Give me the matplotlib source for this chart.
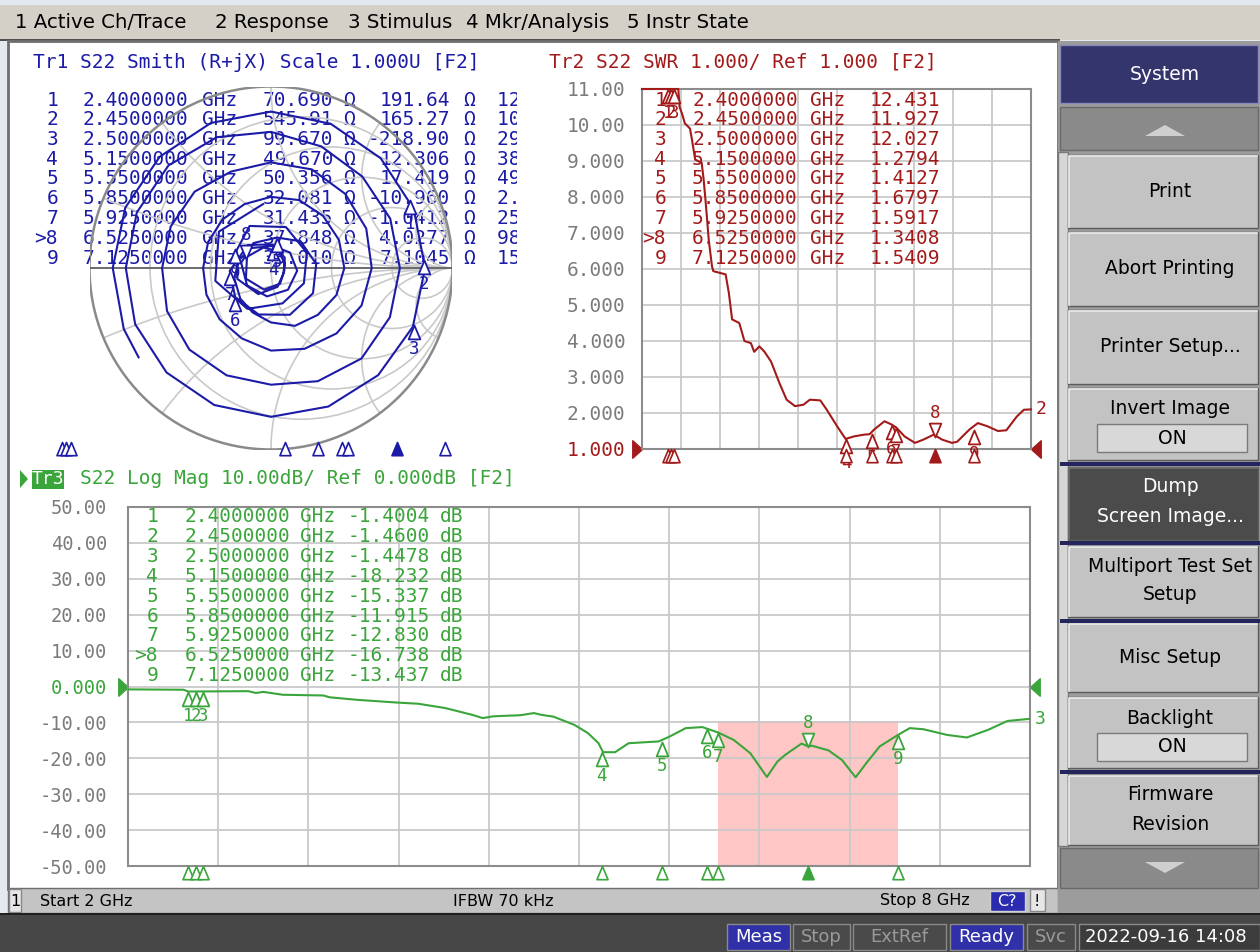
import numpy as np
import matplotlib
matplotlib.use("Agg")
import matplotlib.pyplot as plt
from matplotlib.patches import Rectangle, Circle, Polygon
from matplotlib.path import Path
from matplotlib.transforms import Bbox, TransformedBbox

W, H = 1260, 952
MONO = "DejaVu Sans Mono"
SANS = "DejaVu Sans"
MS = 14.0   # size of the instrument's fixed-width font

BLUE = "#1b1ba8"
RED = "#a31a1a"
GREEN = "#3aa53a"
GRID = "#c9c9c9"
FRAME = "#8c8c8c"
TICKC = "#7b7b7b"

# marker table, the same nine markers on all three traces
mk_label = ["1", "2", "3", "4", "5", "6", "7", ">8", "9"]
mk_freq = [2.4, 2.45, 2.5, 5.15, 5.55, 5.85, 5.925, 6.525, 7.125]   # GHz
mk_R = [70.690, 545.91, 99.670, 49.670, 50.356, 32.081, 31.435, 37.848, 33.010]
mk_X = [191.64, 165.27, -218.90, 12.306, 17.419, -10.960, -1.0412, 4.0277, 7.1045]
mk_eq = ["12.709 nH", "10.736 nH", "290.80 fF", "380.31 pH", "499.52 pH",
         "2.4823 pF", "25.799 pF", "98.240 pH", "158.70 pH"]
mk_swr = [12.431, 11.927, 12.027, 1.2794, 1.4127, 1.6797, 1.5917, 1.3408, 1.5409]
mk_db = [-1.4004, -1.4600, -1.4478, -18.232, -15.337, -11.915, -12.830, -16.738, -13.437]
active = 7

# Tr1 Smith trace: reflection coefficient (angle deg unwrapped, magnitude)
smith_ang = [-146, -157.5, -180, -202.5, -225, -247.5, -270, -292.5, -315, -337.5,
             -360, -382.5, -405, -427.5, -450, -472.5, -495, -517.5, -540, -562.5,
             -585, -607.5, -630, -652.5, -675, -697.5, -720, -742.5, -765, -787.5,
             -810, -832.5, -855, -877.5, -900, -922.5, -945, -967.5, -990, -1012.5,
             -1035, -1057.5, -1080, -1102.5, -1125, -1147.5, -1170, -1192.5, -1215, -1237.5,
             -1260, -1282.5, -1305, -1327.5, -1350, -1372.5, -1395, -1417.5, -1440, -1462.5,
             -1485, -1507.5, -1530, -1552.5, -1575,
             -1605, -1635, -1665, -1715.4, -1761, -1806, -1852, -1898, -1944, -1990,
             -2035, -2081, -2118, -2155, -2191, -2228, -2265, -2301, -2336, -2385,
             -2434, -2483, -2531, -2580, -2628, -2677, -2725, -2770, -2815, -2860,
             -2905, -2951, -2996, -3042, -3087.6, -3123, -3170, -3217, -3265, -3312,
             -3360, -3407, -3455, -3503]
smith_mag = [0.88, 0.878, 0.872, 0.869, 0.867, 0.865, 0.862, 0.86, 0.855, 0.851,
             0.849, 0.846, 0.835, 0.826, 0.82, 0.817, 0.814, 0.81, 0.80, 0.80,
             0.799, 0.78, 0.75, 0.725, 0.712, 0.711, 0.71, 0.709, 0.705, 0.675,
             0.643, 0.64, 0.636, 0.62, 0.60, 0.598, 0.595, 0.575, 0.582, 0.588,
             0.578, 0.568, 0.555, 0.54, 0.51, 0.482, 0.455, 0.42, 0.40, 0.385,
             0.374, 0.375, 0.378, 0.381, 0.392, 0.405, 0.406, 0.405, 0.404, 0.39,
             0.365, 0.345, 0.30, 0.265, 0.239,
             0.21, 0.18, 0.155, 0.122, 0.135, 0.145, 0.152, 0.158, 0.163, 0.167,
             0.168, 0.171, 0.22, 0.25, 0.27, 0.278, 0.265, 0.254, 0.228, 0.18,
             0.13, 0.095, 0.075, 0.10, 0.125, 0.15, 0.146, 0.12, 0.10, 0.08,
             0.075, 0.11, 0.16, 0.195, 0.213, 0.26, 0.24, 0.215, 0.20, 0.205,
             0.26, 0.315, 0.35, 0.355]

# Tr2 SWR trace (display clamps at 11)
swr_f = [2.00, 2.56, 2.58, 2.62, 2.66, 2.74, 2.77, 2.82, 2.92, 2.95, 2.98, 3.03, 3.08, 3.10,
         3.29, 3.34, 3.39, 3.50, 3.58, 3.68, 3.73, 3.81, 3.89, 3.99, 4.12, 4.23, 4.36, 4.49,
         4.59, 4.75, 4.85, 5.01, 5.14, 5.27, 5.43, 5.51, 5.58, 5.74, 5.85, 5.92, 6.05, 6.21,
         6.34, 6.50, 6.63, 6.78, 6.86, 7.05, 7.18, 7.33, 7.49, 7.62, 7.78, 7.89, 8.00]
swr = [11.0, 11.0, 10.5, 10.3, 10.05, 9.9, 9.6, 9.04, 8.95, 8.5, 7.9, 6.8, 6.07, 5.94,
       5.85, 5.33, 4.6, 4.5, 4.0, 3.94, 3.7, 3.85, 3.7, 3.43, 2.83, 2.37, 2.19, 2.23,
       2.37, 2.35, 2.09, 1.63, 1.28, 1.35, 1.4, 1.41, 1.54, 1.77, 1.68, 1.6, 1.35, 1.17,
       1.26, 1.4, 1.26, 1.17, 1.2, 1.54, 1.72, 1.63, 1.5, 1.52, 1.9, 2.09, 2.1]

# Tr3 log magnitude trace
db_f = [2.00, 2.37, 2.40, 2.80, 2.85, 2.90, 3.03, 3.30, 3.34, 3.52, 3.80, 3.93, 4.11,
        4.29, 4.36, 4.43, 4.61, 4.70, 4.75, 4.83, 4.97, 5.06, 5.13, 5.16, 5.24, 5.33,
        5.53, 5.60, 5.71, 5.82, 5.925, 6.03, 6.14, 6.25, 6.32, 6.37, 6.48, 6.525, 6.55,
        6.66, 6.75, 6.84, 6.91, 7.00, 7.125, 7.20, 7.29, 7.45, 7.58, 7.72, 7.85, 8.00]
db = [-0.8, -0.9, -1.4, -1.3, -1.8, -1.5, -2.3, -2.5, -3.0, -3.7, -4.5, -4.8, -6.0,
      -7.9, -8.8, -8.3, -8.0, -7.4, -7.9, -8.4, -10.7, -13.0, -15.8, -18.3, -18.3, -15.8,
      -15.3, -14.0, -11.6, -11.3, -12.8, -14.9, -18.6, -25.2, -20.9, -19.1, -15.9, -16.7, -16.5,
      -17.8, -20.5, -25.3, -21.4, -16.7, -13.4, -11.6, -11.9, -13.5, -14.2, -12.1, -9.6, -9.0]

band_f = [5.925, 7.125]
band_db = [-50, -9.6]

grid_f = [2.0, 2.6, 3.2, 3.8, 4.4, 5.0, 5.6, 6.2, 6.8, 7.4, 8.0]

fig = plt.figure(figsize=(W / 100, H / 100), dpi=100)
fig.patch.set_facecolor("#e4e9f0")
bg = fig.add_axes([0, 0, 1, 1])
bg.set_xlim(0, W)
bg.set_ylim(H, 0)
bg.axis("off")


def box(x0, y0, x1, y1):
    return fig.add_axes([x0 / W, 1 - y1 / H, (x1 - x0) / W, (y1 - y0) / H])


def rect(x, y, w, h, fc, ec="none", lw=0, z=1):
    p = Rectangle((x, y), w, h, facecolor=fc, edgecolor=ec, linewidth=lw, zorder=z)
    bg.add_patch(p)
    return p


def txt(ax, x, y, s, color="black", size=MS, family=MONO, ha="left", va="center", **kw):
    return ax.text(x, y, s, color=color, fontsize=size, family=family, ha=ha, va=va,
                   transform=bg.transData, clip_on=False, zorder=2.5, **kw)


# ---------- window chrome ----------
rect(0, 5, W, 35, "#d4d0c8")
for lab, x in [("1 Active Ch/Trace", 15), ("2 Response", 215), ("3 Stimulus", 348),
               ("4 Mkr/Analysis", 466), ("5 Instr State", 627)]:
    txt(bg, x, 22, lab, size=14.2, family=SANS)
rect(0, 39, 1060, 2, "#505050")
rect(8, 41, 1050, 848, "white", ec="#6e6e6e", lw=2)

# status bar
rect(8, 888, 1050, 25, "#c4c4c4", ec="#6e6e6e", lw=1)
rect(9, 889, 12, 23, "#e6e6e6", ec="#888888", lw=1)
txt(bg, 15, 901, "1", size=11.5, family=SANS, ha="center")
txt(bg, 40, 901, "Start 2 GHz", size=11.5, family=SANS)
txt(bg, 453, 901, "IFBW 70 kHz", size=11.5, family=SANS)
txt(bg, 880, 901, "Stop 8 GHz", size=11.5, family=SANS)
rect(990, 891, 35, 20, "#2b2bb0", ec="#d0d0d0", lw=1)
txt(bg, 1007, 901, "C?", color="white", size=11.5, family=SANS, ha="center")
rect(1030, 889, 15, 22, "#e6e6e6", ec="#888888", lw=1)
txt(bg, 1037, 901, "!", size=11.5, family=SANS, ha="center")

# bottom bar
rect(0, 913, W, 39, "#474747")
rect(0, 913, W, 2, "#202020")
for lab, x0, x1, on in [("Meas", 727, 790, True), ("Stop", 793, 850, False),
                        ("ExtRef", 853, 946, False), ("Ready", 950, 1023, True),
                        ("Svc", 1027, 1075, False)]:
    rect(x0, 924, x1 - x0, 26, "#3030a8" if on else "#4a4a4a", ec="#8a8a8a", lw=1)
    txt(bg, (x0 + x1) / 2, 937, lab, color="white" if on else "#9a9a9a", size=13, family=SANS, ha="center")
rect(1079, 924, 181, 26, "#3c3c3c", ec="#8a8a8a", lw=1)
txt(bg, 1085, 937, "2022-09-16 14:08", color="white", size=13, family=SANS)

# softkey panel
rect(1058, 41, 202, 872, "#9c9c9c")
rect(1060, 45, 198, 58, "#35356e", ec="#8888b8", lw=1)
txt(bg, 1165, 75, "System", color="white", size=13.5, family=SANS, ha="center")
rect(1060, 107, 198, 43, "#8a8a8a", ec="#6a6a6a", lw=1)
bg.add_patch(Polygon([(1145, 136), (1185, 136), (1165, 125)], closed=True, fc="#cfcfcf", ec="none", zorder=2))
rect(1060, 848, 198, 40, "#8a8a8a", ec="#6a6a6a", lw=1)
bg.add_patch(Polygon([(1145, 862), (1185, 862), (1165, 873)], closed=True, fc="#cfcfcf", ec="none", zorder=2))
rect(1058, 152, 10, 694, "#d6d6d6", ec="#7a7a7a", lw=1)
for y in [462, 541, 619, 770]:
    rect(1060, y, 200, 4, "#25255e", z=3)

softkeys = [(["Print"], 155, 228, "light"), (["Abort Printing"], 232, 306, "light"),
            (["Printer Setup..."], 310, 384, "light"), (["Invert Image"], 388, 460, "toggle"),
            (["Dump", "Screen Image..."], 467, 540, "dark"),
            (["Multiport Test Set", "Setup"], 546, 617, "light"),
            (["Misc Setup"], 623, 692, "light"), (["Backlight"], 697, 768, "toggle"),
            (["Firmware", "Revision"], 775, 845, "light")]
for lines, y0, y1, kind in softkeys:
    fc = "#4b4b4b" if kind == "dark" else "#c3c3c3"
    tc = "white" if kind == "dark" else "black"
    rect(1068, y0, 190, y1 - y0, fc, ec="#5c5c5c", lw=1)
    bg.plot([1069, 1069, 1257], [y1 - 1, y0 + 1, y0 + 1], color="#f0f0f0" if kind != "dark" else "#707070", lw=1.2, zorder=2)
    if kind == "toggle":
        txt(bg, 1170, y0 + 21, lines[0], color=tc, size=13.5, family=SANS, ha="center")
        rect(1097, y0 + 36, 150, 28, "#d8d8d8", ec="#7a7a7a", lw=1, z=2)
        txt(bg, 1172, y0 + 50, "ON", size=13.5, family=SANS, ha="center")
    elif len(lines) == 1:
        txt(bg, 1170, (y0 + y1) / 2, lines[0], color=tc, size=13.5, family=SANS, ha="center")
    else:
        txt(bg, 1170, y0 + 20, lines[0], color=tc, size=13.5, family=SANS, ha="center")
        txt(bg, 1170, y0 + 49, lines[1], color=tc, size=13.5, family=SANS, ha="center")

# ---------- marker glyphs ----------
TRI_DN = Path([(0, 0), (-0.42, -1), (0.42, -1), (0, 0)],
              [Path.MOVETO, Path.LINETO, Path.LINETO, Path.CLOSEPOLY])   # apex on point, body below
TRI_UP = Path([(0, 0), (-0.42, 1), (0.42, 1), (0, 0)],
              [Path.MOVETO, Path.LINETO, Path.LINETO, Path.CLOSEPOLY])   # apex on point, body above
REF_L = Path([(-1, 0.9), (-1, -0.9), (0, 0), (-1, 0.9)],
             [Path.MOVETO, Path.LINETO, Path.LINETO, Path.CLOSEPOLY])
REF_R = Path([(1, 0.9), (1, -0.9), (0, 0), (1, 0.9)],
             [Path.MOVETO, Path.LINETO, Path.LINETO, Path.CLOSEPOLY])


def put_markers(ax, xs, ys, color):
    for i, (x, y) in enumerate(zip(xs, ys)):
        above = i == active
        ax.plot([x], [y], ls="none", marker=TRI_UP if above else TRI_DN, ms=20,
                mfc="white", mec=color, mew=1.3, clip_on=False, zorder=5)
        ax.annotate(mk_label[i].lstrip(">"), (x, y), xytext=(0, 24 if above else -24),
                    textcoords="offset pixels", ha="center", va="center", color=color,
                    fontsize=12.5, family=MONO, annotation_clip=False, zorder=5)


def stim_markers(ax, ypos, color):
    for i, f in enumerate(mk_freq):
        ax.plot([f], [ypos], ls="none", marker=TRI_DN, ms=19, mfc=color if i == active else "white",
                mec=color, mew=1.2, clip_on=False, zorder=5, transform=ax.get_xaxis_transform())


# ---------- Tr1 Smith chart ----------
txt(bg, 33, 62, "Tr1 S22 Smith (R+jX) Scale 1.000U [F2]", color=BLUE)
panel_clip = TransformedBbox(Bbox([[12, 44], [517, 466]]), bg.transData)
for i in range(9):
    y = 100 + 19.75 * i
    txt(bg, 58, y, mk_label[i], color=BLUE, ha="right")
    txt(bg, 83, y, "%.7f" % mk_freq[i], color=BLUE)
    txt(bg, 202, y, "GHz", color=BLUE)
    txt(bg, 333, y, "%.3f" % mk_R[i] if abs(mk_R[i]) < 100 else "%.2f" % mk_R[i], color=BLUE, ha="right")
    txt(bg, 343, y, "Ω", color=BLUE)
    xs = "%.2f" % mk_X[i] if abs(mk_X[i]) >= 100 else ("%.3f" % mk_X[i] if abs(mk_X[i]) >= 10 else "%.4f" % mk_X[i])
    txt(bg, 450, y, xs, color=BLUE, ha="right")
    txt(bg, 463, y, "Ω", color=BLUE)
    t = bg.text(497, y, mk_eq[i], color=BLUE, fontsize=MS, family=MONO, va="center", zorder=2.5)
    t.set_clip_path(None)
    t.set_clip_box(panel_clip)
    t.set_clip_on(True)

sm = box(89.5, 86.5, 452.5, 449.5)
sm.set_xlim(-1, 1)
sm.set_ylim(-1, 1)
sm.axis("off")
unit = Circle((0, 0), 1, transform=sm.transData)
for r in [0.2, 0.5, 1, 2, 5]:
    sm.add_patch(Circle((r / (1 + r), 0), 1 / (1 + r), fill=False, ec=GRID, lw=1.2, zorder=1))
for x in [0.2, 0.5, 1, 2, 5]:
    for s in (1, -1):
        c = Circle((1, s / x), 1 / x, fill=False, ec=GRID, lw=1.2, zorder=1)
        sm.add_patch(c)
        c.set_clip_path(unit)
sm.add_patch(Circle((0, 0), 1, fill=False, ec="#8a8a8a", lw=1.8, zorder=1.2))
sm.plot([-1, 1], [0, 0], color="#6a6a6a", lw=1.4, zorder=1.3)
gam = np.array(smith_mag) * np.exp(1j * np.radians(smith_ang))
sm.plot(gam.real, gam.imag, color=BLUE, lw=1.5, zorder=3)
zl = (np.array(mk_R) + 1j * np.array(mk_X)) / 50.0
gmk = (zl - 1) / (zl + 1)
put_markers(sm, gmk.real, gmk.imag, BLUE)

strip = box(30, 442, 516, 456)
strip.set_xlim(2, 8)
strip.set_ylim(0, 1)
strip.axis("off")
stim_markers(strip, 1, BLUE)

# ---------- Tr2 SWR ----------
txt(bg, 549, 62, "Tr2 S22 SWR 1.000/ Ref 1.000 [F2]", color=RED)
sw = box(642, 89, 1031, 449)
sw.set_facecolor("none")
sw.set_xlim(2, 8)
sw.set_ylim(1, 11)
sw.set_xticks(grid_f)
sw.set_xticklabels([])
sw.set_yticks(range(1, 12))
sw.set_yticklabels(["1.000", "2.000", "3.000", "4.000", "5.000", "6.000", "7.000",
                    "8.000", "9.000", "10.00", "11.00"], family=MONO, fontsize=MS, color=TICKC)
sw.get_yticklabels()[0].set_color(RED)
sw.tick_params(length=0, pad=12)
sw.grid(True, color=GRID, lw=1.3)
for sp in sw.spines.values():
    sp.set_color(FRAME)
    sp.set_linewidth(1.5)
for i in range(9):
    y = 100 + 19.75 * i
    txt(sw, 666, y, mk_label[i], color=RED, ha="right")
    txt(sw, 692, y, "%.7f" % mk_freq[i], color=RED)
    txt(sw, 810, y, "GHz", color=RED)
    txt(sw, 940, y, "%.3f" % mk_swr[i] if mk_swr[i] >= 10 else "%.4f" % mk_swr[i], color=RED, ha="right")
sw.plot(swr_f, swr, color=RED, lw=1.5, zorder=3, clip_on=False)
put_markers(sw, mk_freq, np.minimum(mk_swr, 11), RED)
stim_markers(sw, 0, RED)
sw.plot([0], [1], ls="none", marker=REF_L, ms=14, color=RED, clip_on=False, transform=sw.get_yaxis_transform())
sw.plot([1], [1], ls="none", marker=REF_R, ms=14, color=RED, clip_on=False, transform=sw.get_yaxis_transform())
sw.annotate("2", (swr_f[-1], swr[-1]), xytext=(10, 0), textcoords="offset pixels", color=RED,
            fontsize=13, family=MONO, va="center", ha="center", annotation_clip=False)

# ---------- Tr3 Log Mag ----------
bg.add_patch(Polygon([(20, 470), (20, 488), (28, 479)], closed=True, fc=GREEN, ec="none", zorder=2))
rect(32, 470, 32, 19, GREEN, z=2)
txt(bg, 48, 479.5, "Tr3", color="white", ha="center", size=13)
txt(bg, 80, 479, "S22 Log Mag 10.00dB/ Ref 0.000dB [F2]", color=GREEN)
lm = box(128, 507, 1030, 866)
lm.set_facecolor("none")
lm.set_xlim(2, 8)
lm.set_ylim(-50, 50)
lm.set_xticks(grid_f)
lm.set_xticklabels([])
lm.set_yticks(range(-50, 51, 10))
lm.set_yticklabels(["-50.00", "-40.00", "-30.00", "-20.00", "-10.00", "0.000",
                    "10.00", "20.00", "30.00", "40.00", "50.00"], family=MONO, fontsize=13.5, color=TICKC)
lm.get_yticklabels()[5].set_color(GREEN)
lm.tick_params(length=0, pad=15)
lm.grid(True, color=GRID, lw=1.3)
for sp in lm.spines.values():
    sp.set_color(FRAME)
    sp.set_linewidth(1.5)
lm.fill_between(band_f, band_db[0], band_db[1], color="#ffc6c6", lw=0, zorder=1)
for i in range(9):
    y = 517 + 19.8 * i
    txt(lm, 158, y, mk_label[i], color=GREEN, ha="right")
    txt(lm, 185, y, "%.7f" % mk_freq[i], color=GREEN)
    txt(lm, 300, y, "GHz", color=GREEN)
    txt(lm, 430, y, "%.4f" % mk_db[i] if abs(mk_db[i]) < 10 else "%.3f" % mk_db[i], color=GREEN, ha="right")
    txt(lm, 440, y, "dB", color=GREEN)
lm.plot(db_f, db, color=GREEN, lw=1.5, zorder=3)
put_markers(lm, mk_freq, mk_db, GREEN)
stim_markers(lm, 0, GREEN)
lm.plot([0], [0], ls="none", marker=REF_L, ms=14, color=GREEN, clip_on=False, transform=lm.get_yaxis_transform())
lm.plot([1], [0], ls="none", marker=REF_R, ms=14, color=GREEN, clip_on=False, transform=lm.get_yaxis_transform())
lm.annotate("3", (db_f[-1], db[-1]), xytext=(10, 0), textcoords="offset pixels", color=GREEN,
            fontsize=13, family=MONO, va="center", ha="center", annotation_clip=False)

fig.savefig("out.png", dpi=100, facecolor=fig.get_facecolor())
